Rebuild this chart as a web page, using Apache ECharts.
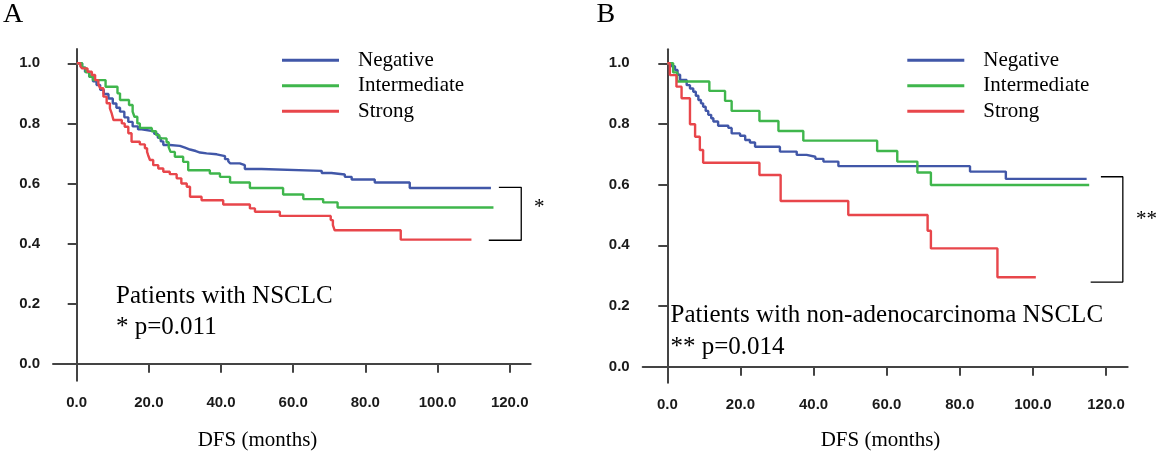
<!DOCTYPE html>
<html>
<head>
<meta charset="utf-8">
<script src="https://cdn.jsdelivr.net/npm/echarts@6/dist/echarts.min.js"></script>
<style>html,body{margin:0;padding:0;background:#fff}#c{width:1163px;height:456px}</style>
</head>
<body>
<div id="c"></div>
<script>
// ---------- data (time in months, survival probability) ----------
const groups = ['Negative', 'Intermediate', 'Strong'];
const xTicks = [0, 20, 40, 60, 80, 100, 120];
const yTicks = [0, 0.2, 0.4, 0.6, 0.8, 1.0];

// Panel A: Patients with NSCLC
const aNegT = [0,1.5,2.3,3.5,4.5,5.5,6.5,7.5,8.8,10,11,12,13.2,14.3,15.5,17,18,21.5,22.5,23.3,24,25.8,28.6,30,31.4,33,34.2,36,38.8,41.1,42,42.5,45.2,46.6,51.2,67.9,70.6,74.3,76.2,82.6,92.3,114.8];
const aNegS = [1,0.985,0.972,0.955,0.94,0.928,0.912,0.898,0.883,0.866,0.852,0.839,0.82,0.805,0.79,0.78,0.774,0.765,0.752,0.74,0.728,0.725,0.719,0.713,0.708,0.703,0.7,0.697,0.691,0.681,0.674,0.667,0.661,0.648,0.642,0.635,0.63,0.622,0.613,0.603,0.585,0.585];
const aIntT = [0,1.5,2.5,3.5,4.5,8,11.3,12,14.5,15.5,16,16.8,17.5,20.8,22,22.9,24.9,25.5,26,27.2,29.5,30.9,36.9,39.7,42.5,48,57.2,62.8,68.3,72.3,115.5];
const aIntS = [1,0.985,0.97,0.955,0.944,0.922,0.9,0.878,0.861,0.839,0.822,0.8,0.785,0.774,0.761,0.75,0.737,0.72,0.705,0.689,0.672,0.644,0.633,0.622,0.603,0.585,0.563,0.548,0.537,0.52,0.52];
const aStrT = [0,1,1.5,3,4.2,5.1,6,6.5,7.4,8.3,9.2,9.7,10.2,12.5,13.3,14.3,15.2,17.5,18.9,19.5,19.8,20.3,21.2,22.6,24,25.8,27.7,29,30.5,31.4,34.6,40.6,48,49.4,56.3,70.4,71,71.5,89.8,109.4];
const aStrS = [1,0.99,0.983,0.972,0.961,0.944,0.93,0.917,0.889,0.867,0.85,0.833,0.811,0.8,0.789,0.767,0.739,0.73,0.717,0.705,0.694,0.678,0.661,0.65,0.639,0.631,0.617,0.6,0.589,0.556,0.544,0.53,0.517,0.506,0.492,0.478,0.461,0.444,0.413,0.413];

// Panel B: Patients with non-adenocarcinoma NSCLC
const bNegT = [0,1.2,2.1,2.8,3.5,5.3,6.2,7.1,7.8,8.5,9.2,9.8,10.5,11.2,12,12.6,13.9,16.7,17.6,19.9,21.3,22.6,24,30.8,35.4,38.1,40.5,42.7,46.8,82.8,92.6,114.7];
const bNegS = [1,0.99,0.978,0.962,0.945,0.928,0.917,0.906,0.893,0.879,0.868,0.857,0.843,0.83,0.819,0.808,0.794,0.787,0.769,0.761,0.747,0.739,0.725,0.709,0.698,0.692,0.685,0.676,0.661,0.643,0.619,0.619];
const bIntT = [0,1.6,2.7,11.5,15.8,17.6,25.2,30.4,37.2,57.4,62.9,68.4,72.1,115.4];
const bIntS = [1,0.97,0.94,0.909,0.876,0.843,0.81,0.777,0.745,0.711,0.676,0.64,0.599,0.599];
const bStrT = [0,0.7,2.5,3.9,6.2,7.6,8.9,9.8,25.2,31,49.5,71.2,72.1,90.3,100.8];
const bStrS = [1,0.961,0.923,0.885,0.799,0.758,0.714,0.672,0.632,0.546,0.5,0.448,0.39,0.295,0.295];

// significance brackets (data coordinates)
const bracketA = [[117,0.587],[123.2,0.587],[123.2,0.411],[114.2,0.411]];
const bracketB = [[118.6,0.626],[124.6,0.626],[124.6,0.279],[115.8,0.279]];

// ---------- chart ----------
const colors = ['#4157a8', '#3fb64c', '#e8464b'];
const serif = '"Liberation Serif", "Times New Roman", serif';
const zip = (t, s) => t.map((v, i) => [v, s[i]]);

function xAxisDef(idx, min, max) {
  return {
    gridIndex: idx, type: 'value', min: min, max: max,
    axisLine: { show: true, lineStyle: { color: '#444', width: 2 } },
    axisTick: { show: true, length: 9, customValues: xTicks, lineStyle: { color: '#444', width: 2 } },
    axisLabel: { customValues: xTicks, margin: 15, formatter: v => v.toFixed(1),
      fontFamily: '"Liberation Sans", Arial, sans-serif', fontWeight: 'bold', fontSize: 15, color: '#1a1a1a' },
    splitLine: { show: false }
  };
}
function yAxisDef(idx, min, max) {
  return {
    gridIndex: idx, type: 'value', min: min, max: max,
    axisLine: { show: true, lineStyle: { color: '#444', width: 2 } },
    axisTick: { show: true, length: 9, customValues: yTicks, lineStyle: { color: '#444', width: 2 } },
    axisLabel: { customValues: yTicks, margin: 13, formatter: v => v.toFixed(1),
      fontFamily: '"Liberation Sans", Arial, sans-serif', fontWeight: 'bold', fontSize: 15, color: '#1a1a1a' },
    splitLine: { show: false }
  };
}
function km(name, idx, data, color) {
  return {
    name: name, type: 'line', xAxisIndex: idx, yAxisIndex: idx, data: data,
    step: 'end', symbol: 'none', showSymbol: false, silent: true,
    lineStyle: { color: color, width: 2.4 }, itemStyle: { color: color }
  };
}
function bracket(idx, data) {
  return {
    name: 'bracket' + idx, type: 'line', xAxisIndex: idx, yAxisIndex: idx, data: data,
    symbol: 'none', silent: true, lineStyle: { color: '#000', width: 1.3 }, itemStyle: { color: '#000' }
  };
}
function legendDef(left) {
  return {
    orient: 'vertical', left: left, top: 47.5, padding: 0, itemGap: 0,
    icon: 'rect', itemWidth: 57, itemHeight: 3, selectedMode: false,
    data: groups,
    textStyle: { fontFamily: serif, fontSize: 21, color: '#000', lineHeight: 25.5, padding: [0, 0, 0, 14] }
  };
}
function txt(x, y, s, size, align) {
  return { type: 'text', x: x, y: y,
    style: { text: s, fontFamily: serif, fontSize: size, fill: '#000', textAlign: align || 'left', textVerticalAlign: 'middle' } };
}

const chart = echarts.init(document.getElementById('c'), null, { renderer: 'canvas' });
chart.setOption({
  animation: false,
  backgroundColor: '#fff',
  grid: [
    { left: 53, top: 49, width: 477.7, height: 331.7 },
    { left: 642.7, top: 49.3, width: 485, height: 333.4 }
  ],
  xAxis: [ xAxisDef(0, -6.57, 125.82), xAxisDef(1, -6.73, 125.93) ],
  yAxis: [ yAxisDef(0, -0.0566, 1.0476), yAxisDef(1, -0.0527, 1.0461) ],
  legend: [ legendDef(282), legendDef(907.3) ],
  series: [
    km(groups[0], 0, zip(aNegT, aNegS), colors[0]),
    km(groups[1], 0, zip(aIntT, aIntS), colors[1]),
    km(groups[2], 0, zip(aStrT, aStrS), colors[2]),
    bracket(0, bracketA),
    km(groups[0], 1, zip(bNegT, bNegS), colors[0]),
    km(groups[1], 1, zip(bIntT, bIntS), colors[1]),
    km(groups[2], 1, zip(bStrT, bStrS), colors[2]),
    bracket(1, bracketB)
  ],
  graphic: [
    txt(3, 15, 'A', 28),
    txt(596.5, 15, 'B', 28),
    txt(116, 296, 'Patients with NSCLC', 25),
    txt(116, 327, '* p=0.011', 25),
    txt(670.5, 315.5, 'Patients with non-adenocarcinoma NSCLC', 25),
    txt(670.5, 347, '** p=0.014', 25),
    txt(534, 207, '*', 21),
    txt(1136, 219, '**', 21),
    txt(257.5, 440, 'DFS (months)', 21, 'center'),
    txt(880.5, 440, 'DFS (months)', 21, 'center')
  ]
});
</script>
</body>
</html>
